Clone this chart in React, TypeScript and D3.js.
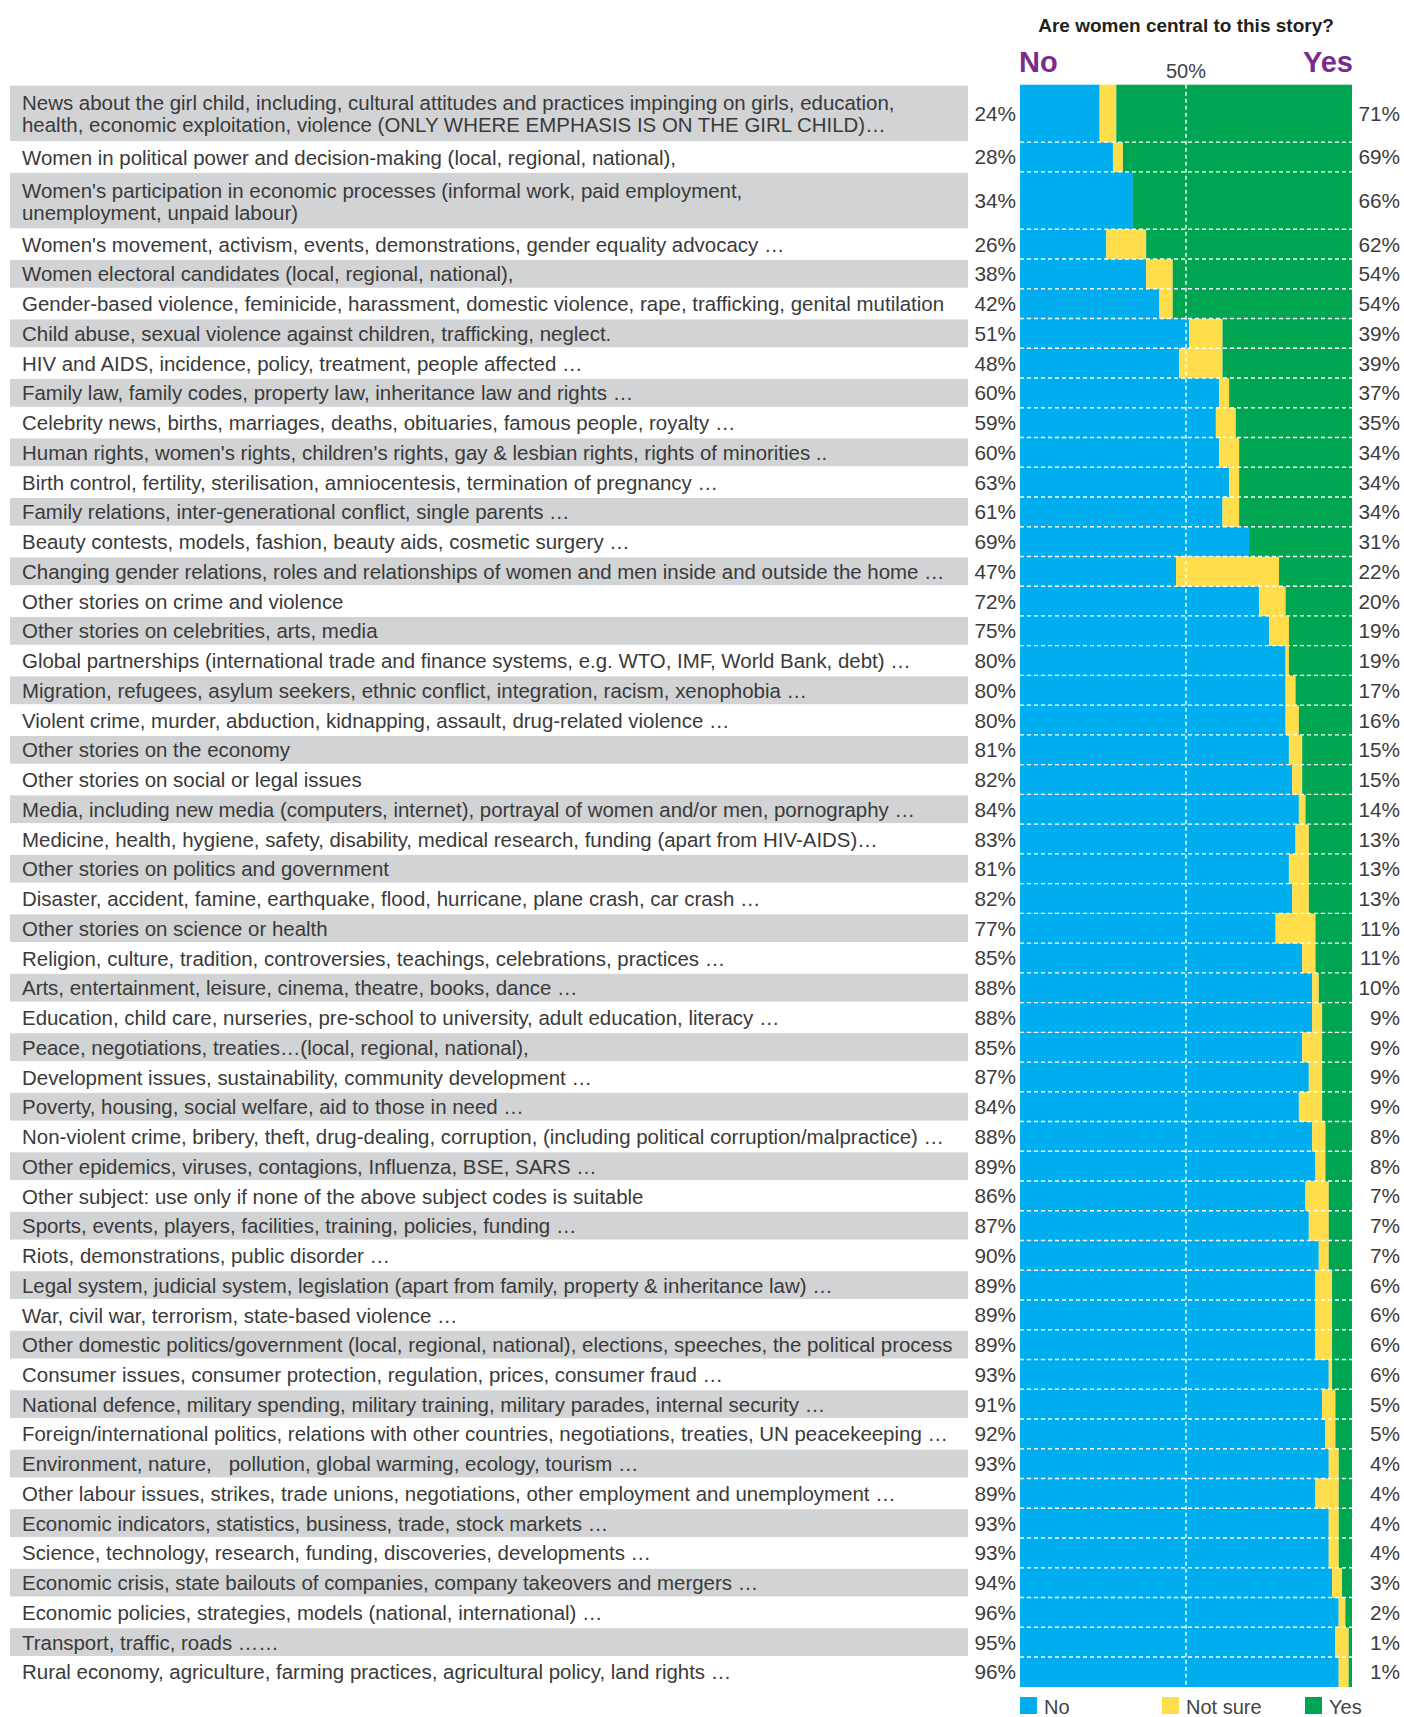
import { useEffect, useRef } from "react";
import * as d3 from "d3";

// topics, top to bottom (a "\n" marks a two-line label)
const topics = [
  "News about the girl child, including, cultural attitudes and practices impinging on girls, education,\nhealth, economic exploitation, violence (ONLY WHERE EMPHASIS IS ON THE GIRL CHILD)…",
  "Women in political power and decision-making (local, regional, national),",
  "Women's participation in economic processes (informal work, paid employment,\nunemployment, unpaid labour)",
  "Women's movement, activism, events, demonstrations, gender equality advocacy …",
  "Women electoral candidates (local, regional, national),",
  "Gender-based violence, feminicide, harassment, domestic violence, rape, trafficking, genital mutilation",
  "Child abuse, sexual violence against children, trafficking, neglect.",
  "HIV and AIDS, incidence, policy, treatment, people affected …",
  "Family law, family codes, property law, inheritance law and rights …",
  "Celebrity news, births, marriages, deaths, obituaries, famous people, royalty …",
  "Human rights, women's rights, children's rights, gay & lesbian rights, rights of minorities ..",
  "Birth control, fertility, sterilisation, amniocentesis, termination of pregnancy …",
  "Family relations, inter-generational conflict, single parents …",
  "Beauty contests, models, fashion, beauty aids, cosmetic surgery …",
  "Changing gender relations, roles and relationships of women and men inside and outside the home …",
  "Other stories on crime and violence",
  "Other stories on celebrities, arts, media",
  "Global partnerships (international trade and finance systems, e.g. WTO, IMF, World Bank, debt) …",
  "Migration, refugees, asylum seekers, ethnic conflict, integration, racism, xenophobia …",
  "Violent crime, murder, abduction, kidnapping, assault, drug-related violence …",
  "Other stories on the economy",
  "Other stories on social or legal issues",
  "Media, including new media (computers, internet), portrayal of women and/or men, pornography …",
  "Medicine, health, hygiene, safety, disability, medical research, funding (apart from HIV-AIDS)…",
  "Other stories on politics and government",
  "Disaster, accident, famine, earthquake, flood, hurricane, plane crash, car crash …",
  "Other stories on science or health",
  "Religion, culture, tradition, controversies, teachings, celebrations, practices …",
  "Arts, entertainment, leisure, cinema, theatre, books, dance …",
  "Education, child care, nurseries, pre-school to university, adult education, literacy …",
  "Peace, negotiations, treaties…(local, regional, national),",
  "Development issues, sustainability, community development …",
  "Poverty, housing, social welfare, aid to those in need …",
  "Non-violent crime, bribery, theft, drug-dealing, corruption, (including political corruption/malpractice) …",
  "Other epidemics, viruses, contagions, Influenza, BSE, SARS …",
  "Other subject: use only if none of the above subject codes is suitable",
  "Sports, events, players, facilities, training, policies, funding …",
  "Riots, demonstrations, public disorder …",
  "Legal system, judicial system, legislation (apart from family, property & inheritance law) …",
  "War, civil war, terrorism, state-based violence …",
  "Other domestic politics/government (local, regional, national), elections, speeches, the political process",
  "Consumer issues, consumer protection, regulation, prices, consumer fraud …",
  "National defence, military spending, military training, military parades, internal security …",
  "Foreign/international politics, relations with other countries, negotiations, treaties, UN peacekeeping …",
  "Environment, nature,   pollution, global warming, ecology, tourism …",
  "Other labour issues, strikes, trade unions, negotiations, other employment and unemployment …",
  "Economic indicators, statistics, business, trade, stock markets …",
  "Science, technology, research, funding, discoveries, developments …",
  "Economic crisis, state bailouts of companies, company takeovers and mergers …",
  "Economic policies, strategies, models (national, international) …",
  "Transport, traffic, roads ……",
  "Rural economy, agriculture, farming practices, agricultural policy, land rights …",
];

const noPct = [
  24, 28, 34, 26, 38, 42, 51, 48, 60, 59, 60, 63, 61, 69, 47, 72, 75, 80, 80, 80,
  81, 82, 84, 83, 81, 82, 77, 85, 88, 88, 85, 87, 84, 88, 89, 86, 87, 90, 89, 89,
  89, 93, 91, 92, 93, 89, 93, 93, 94, 96, 95, 96,
];
const notSurePct = [
  5, 3, 0, 12, 8, 4, 10, 13, 3, 6, 6, 3, 5, 0, 31, 8, 6, 1, 3, 4,
  4, 3, 2, 4, 6, 5, 12, 4, 2, 3, 6, 4, 7, 4, 3, 7, 6, 3, 5, 5,
  5, 1, 4, 3, 3, 7, 3, 3, 3, 2, 4, 3,
];
const yesPct = [
  71, 69, 66, 62, 54, 54, 39, 39, 37, 35, 34, 34, 34, 31, 22, 20, 19, 19, 17, 16,
  15, 15, 14, 13, 13, 13, 11, 11, 10, 9, 9, 9, 9, 8, 8, 7, 7, 7, 6, 6,
  6, 6, 5, 5, 4, 4, 4, 4, 3, 2, 1, 1,
];

const seriesKeys = ["no", "notSure", "yes"];
const seriesNames = ["No", "Not sure", "Yes"];
const seriesColors = ["#00aeef", "#ffdd4b", "#00a551"];

const W = 1404;
const H = 1717;

export default function App() {
  const svgRef = useRef<SVGSVGElement>(null);

  useEffect(() => {
    document.body.style.margin = "0";
    if (!svgRef.current) return;
    const svg = d3.select(svgRef.current);
    svg.selectAll("*").remove();

    const rows = topics.map((t, i) => ({
      label: t,
      lines: t.split("\n"),
      no: noPct[i],
      notSure: notSurePct[i],
      yes: yesPct[i],
    }));

    // two-line rows are a bit less than twice as tall
    const units = rows.map((r) => (r.lines.length > 1 ? 1.93 : 1));
    const starts = [0, ...d3.cumsum(units)];
    const y = d3.scaleLinear().domain([0, starts[starts.length - 1]]).range([84.7, 1686.7]);
    const x = d3.scaleLinear().domain([0, 100]).range([1020, 1352]);

    const font = "'Liberation Sans', Arial, sans-serif";
    const g = svg.append("g").attr("font-family", font);

    // label backgrounds (every other row)
    g.append("g")
      .selectAll("rect")
      .data(rows.map((r, i) => i).filter((i) => i % 2 === 0))
      .join("rect")
      .attr("x", 10)
      .attr("width", 958)
      .attr("y", (i) => y(starts[i]) + 1)
      .attr("height", (i) => y(starts[i + 1]) - y(starts[i]) - 2)
      .attr("fill", "#d1d3d4");

    // labels
    const lab = g.append("g").attr("font-size", 20.45).attr("fill", "#3a3a3a");
    rows.forEach((r, i) => {
      const c = (y(starts[i]) + y(starts[i + 1])) / 2;
      const t = lab.append("text").attr("x", 22).style("white-space", "pre");
      if (r.lines.length === 1) {
        t.attr("y", c + 7.6).text(r.label);
      } else {
        t.append("tspan").attr("x", 22).attr("y", c - 3).text(r.lines[0]);
        t.append("tspan").attr("x", 22).attr("y", c + 19).text(r.lines[1]);
      }
    });

    // stacked bars
    const stack = d3.stack<any>().keys(seriesKeys);
    const series = stack(rows);
    g.append("g")
      .selectAll("g")
      .data(series)
      .join("g")
      .attr("fill", (_d, k) => seriesColors[k])
      .selectAll("rect")
      .data((s) => s.map((p, i) => ({ p, i })))
      .join("rect")
      .attr("x", (d) => x(d.p[0]))
      .attr("width", (d) => Math.max(0, x(d.p[1]) - x(d.p[0])))
      .attr("y", (d) => y(starts[d.i]))
      .attr("height", (d) => y(starts[d.i + 1]) - y(starts[d.i]) + 0.3);

    // white dashed grid
    const grid = g.append("g").attr("stroke", "#fff").attr("stroke-width", 1.4).attr("stroke-dasharray", "4,3");
    grid
      .selectAll("line.h")
      .data(starts.slice(1, -1))
      .join("line")
      .attr("x1", x(0))
      .attr("x2", x(100))
      .attr("y1", (s) => y(s))
      .attr("y2", (s) => y(s));
    grid
      .append("line")
      .attr("x1", x(50))
      .attr("x2", x(50))
      .attr("y1", y.range()[0])
      .attr("y2", y.range()[1]);

    // percentages
    const pct = g.append("g").attr("font-size", 20.8).attr("fill", "#3c3c3c").attr("text-anchor", "end");
    rows.forEach((r, i) => {
      const c = (y(starts[i]) + y(starts[i + 1])) / 2;
      pct.append("text").attr("x", 1016).attr("y", c + 7.5).text(`${r.no}%`);
      pct.append("text").attr("x", 1400).attr("y", c + 7.5).text(`${r.yes}%`);
    });

    // header
    g.append("text")
      .attr("x", x(50))
      .attr("y", 32)
      .attr("text-anchor", "middle")
      .attr("font-size", 19)
      .attr("font-weight", "bold")
      .attr("fill", "#231f20")
      .text("Are women central to this story?");
    g.append("text")
      .attr("x", x(0) - 1)
      .attr("y", 72)
      .attr("font-size", 29)
      .attr("font-weight", "bold")
      .attr("fill", "#7b2b8b")
      .text("No");
    g.append("text")
      .attr("x", x(100) + 1)
      .attr("y", 72)
      .attr("text-anchor", "end")
      .attr("font-size", 29)
      .attr("font-weight", "bold")
      .attr("fill", "#7b2b8b")
      .text("Yes");
    g.append("text")
      .attr("x", x(50))
      .attr("y", 78)
      .attr("text-anchor", "middle")
      .attr("font-size", 20)
      .attr("fill", "#444")
      .text("50%");

    // legend
    const legendX = [1020, 1162, 1305];
    const leg = g
      .append("g")
      .selectAll("g")
      .data(seriesNames)
      .join("g")
      .attr("transform", (_d, k) => `translate(${legendX[k]},1697)`);
    leg
      .append("rect")
      .attr("width", 17)
      .attr("height", 17)
      .attr("fill", (_d, k) => seriesColors[k]);
    leg
      .append("text")
      .attr("x", 24)
      .attr("y", 17)
      .attr("font-size", 20)
      .attr("fill", "#444")
      .text((d) => d);

    return () => {
      svg.selectAll("*").remove();
    };
  }, []);

  return <svg ref={svgRef} width={W} height={H} style={{ display: "block", background: "#fff" }} />;
}
